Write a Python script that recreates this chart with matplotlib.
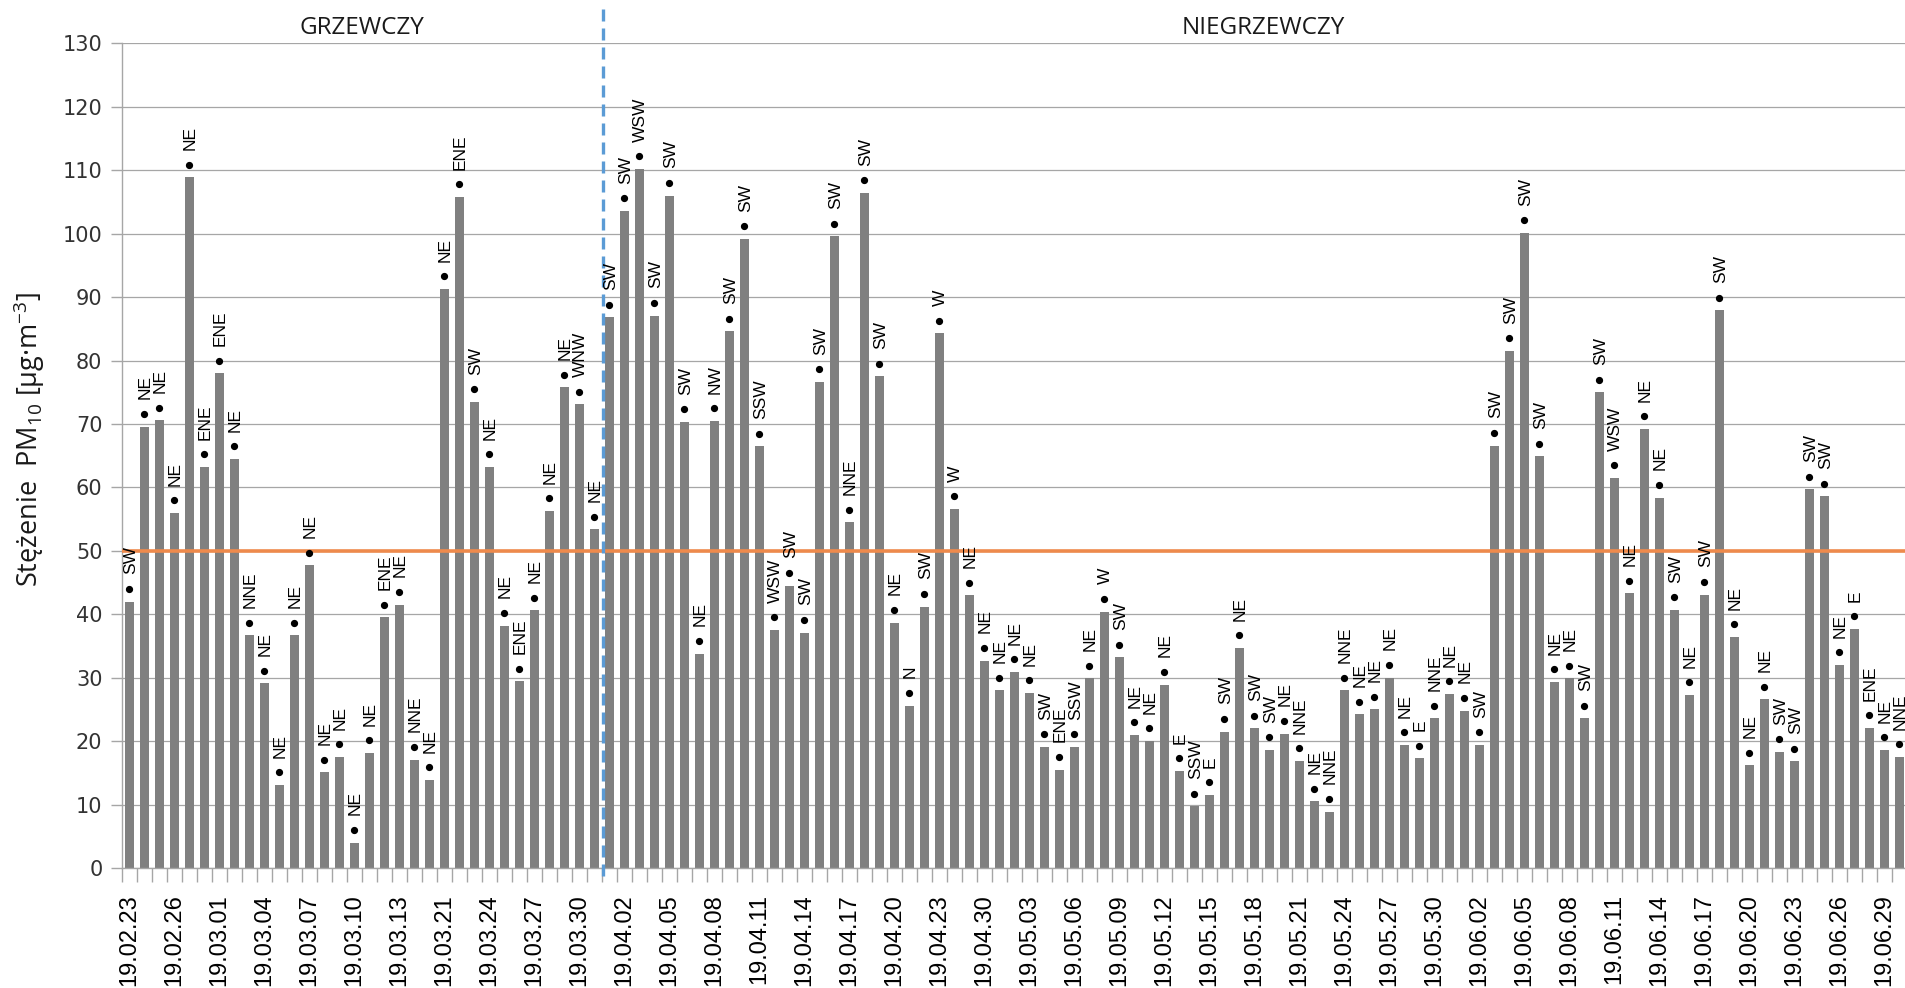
import matplotlib.pyplot as plt
from matplotlib import font_manager
import numpy as np

# Średnie dobowe stężenia PM10 i dominujący kierunek wiatru
pm10 = [
    42.0, 69.6, 70.6, 56.0, 108.9, 63.2, 78.0, 64.5, 36.7, 29.1,
    13.1, 36.7, 47.7, 15.1, 17.5, 4.0, 18.1, 39.5, 41.5, 17.1,
    13.9, 91.3, 105.8, 73.5, 63.2, 38.2, 29.4, 40.6, 56.3, 75.8,
    73.1, 53.4, 86.8, 103.6, 110.2, 87.1, 106.0, 70.3, 33.8, 70.5,
    84.6, 99.2, 66.5, 37.5, 44.5, 37.1, 76.6, 99.6, 54.5, 106.4,
    77.5, 38.7, 25.6, 41.2, 84.3, 56.6, 43.0, 32.7, 28.0, 30.9,
    27.6, 19.1, 15.5, 19.1, 29.9, 40.4, 33.2, 21.0, 20.0, 28.9,
    15.3, 9.7, 11.5, 21.5, 34.7, 22.0, 18.6, 21.2, 16.9, 10.5,
    8.9, 28.0, 24.2, 25.0, 30.0, 19.4, 17.3, 23.6, 27.4, 24.8,
    19.4, 66.6, 81.5, 100.1, 64.9, 29.3, 29.9, 23.6, 75.0, 61.5,
    43.3, 69.2, 58.4, 40.7, 27.3, 43.1, 87.9, 36.4, 16.2, 26.6,
    18.3, 16.8, 59.7, 58.6, 32.0, 37.7, 22.1, 18.6, 17.5,
]

wiatr = [
    "SW", "NE", "NE", "NE", "NE", "ENE", "ENE", "NE", "NNE", "NE",
    "NE", "NE", "NE", "NE", "NE", "NE", "NE", "ENE", "NE", "NNE",
    "NE", "NE", "ENE", "SW", "NE", "NE", "ENE", "NE", "NE", "NE",
    "WNW", "NE", "SW", "SW", "WSW", "SW", "SW", "SW", "NE", "NW",
    "SW", "SW", "SSW", "WSW", "SW", "SW", "SW", "SW", "NNE", "SW",
    "SW", "NE", "N", "SW", "W", "W", "NE", "NE", "NE", "NE",
    "NE", "SW", "ENE", "SSW", "NE", "W", "SW", "NE", "NE", "NE",
    "E", "SSW", "E", "SW", "NE", "SW", "SW", "NE", "NNE", "NE",
    "NNE", "NNE", "NE", "NE", "NE", "NE", "E", "NNE", "NE", "NE",
    "SW", "SW", "SW", "SW", "SW", "NE", "NE", "SW", "SW", "WSW",
    "NE", "NE", "NE", "SW", "NE", "SW", "SW", "NE", "NE", "NE",
    "SW", "SW", "SW", "SW", "NE", "E", "ENE", "NE", "NNE",
]

daty = [
    "19.02.23", "19.02.26", "19.03.01", "19.03.04", "19.03.07", "19.03.10",
    "19.03.13", "19.03.21", "19.03.24", "19.03.27", "19.03.30", "19.04.02",
    "19.04.05", "19.04.08", "19.04.11", "19.04.14", "19.04.17", "19.04.20",
    "19.04.23", "19.04.30", "19.05.03", "19.05.06", "19.05.09", "19.05.12",
    "19.05.15", "19.05.18", "19.05.21", "19.05.24", "19.05.27", "19.05.30",
    "19.06.02", "19.06.05", "19.06.08", "19.06.11", "19.06.14", "19.06.17",
    "19.06.20", "19.06.23", "19.06.26", "19.06.29",
]

norma = 50
granica_sezonu = 31.58   # koniec sezonu grzewczego (między 31.03 a 01.04)

# wąska czcionka do kierunków wiatru, jeśli jest dostępna
dostepne = {f.name for f in font_manager.fontManager.ttflist}
font_wiatr = "Liberation Sans Narrow" if "Liberation Sans Narrow" in dostepne else "Liberation Sans"

# indeksy i wykładniki w opisie osi tą samą czcionką co opis
plt.rcParams["mathtext.fontset"] = "custom"
plt.rcParams["mathtext.rm"] = "Open Sans"
plt.rcParams["mathtext.it"] = "Open Sans:italic"
plt.rcParams["axes.unicode_minus"] = False

x = np.arange(len(pm10))
y = np.array(pm10)

fig = plt.figure(figsize=(19.05, 9.88), dpi=100)
ax = fig.add_axes([0.064, 0.1215, 0.937, 0.8345])

ax.bar(x, y, width=0.62, color="#808080", zorder=2)

# kropka nad słupkiem + kierunek wiatru
ax.plot(x, y + 2, "o", color="black", markersize=4.2, zorder=4)
for xi, yi, w in zip(x, y, wiatr):
    ax.text(xi + 0.08, yi + 4.3, w, rotation=90, ha="center", va="bottom",
            fontsize=12.5, family=font_wiatr, color="black", zorder=5)

# dopuszczalna norma dobowa
ax.axhline(norma, color="#EE8A4C", lw=2.6, zorder=3)

# podział na sezon grzewczy i niegrzewczy
ax.plot([granica_sezonu, granica_sezonu], [-1.2, 135.6], color="#5B9BD5", lw=2.4,
        dashes=(3.6, 2.1), clip_on=False, zorder=3)
ax.text(15.5, 132.4, "GRZEWCZY", ha="center", va="center", fontsize=17.5,
        family="Open Sans", color="#1a1a1a", clip_on=False)
ax.text(75.6, 132.4, "NIEGRZEWCZY", ha="center", va="center", fontsize=17.5,
        family="Open Sans", color="#1a1a1a", clip_on=False)

ax.set_xlim(-0.5, len(pm10) - 0.5)
ax.set_ylim(0, 130)
ax.set_yticks(np.arange(0, 131, 10))
ax.tick_params(axis="y", labelsize=15, colors="#a6a6a6", labelcolor="#333333",
               length=8, width=1, pad=6)
for lab in ax.get_yticklabels():
    lab.set_family("DejaVu Sans")

ax.set_xticks(np.arange(0, len(pm10), 3))
ax.set_xticklabels(daty, rotation=90, fontsize=17, family="Liberation Sans", color="black")
ax.set_xticks(np.arange(-0.5, len(pm10), 1), minor=True)
ax.tick_params(axis="x", which="major", length=0, pad=19)
ax.tick_params(axis="x", which="minor", length=10, width=1, color="#a6a6a6")

ax.grid(axis="y", color="#a6a6a6", lw=0.9)
ax.set_axisbelow(True)
for s in ["top", "right"]:
    ax.spines[s].set_visible(False)
for s in ["left", "bottom"]:
    ax.spines[s].set_color("#a6a6a6")
    ax.spines[s].set_linewidth(1)

fig.text(0.0155, 0.555, "Stężenie  PM$_{10}$ [µg·m$^{-3}$]", rotation=90, ha="center",
         va="center", fontsize=19.5, family="Open Sans", color="#1a1a1a")

fig.savefig("out.png", dpi=100)
